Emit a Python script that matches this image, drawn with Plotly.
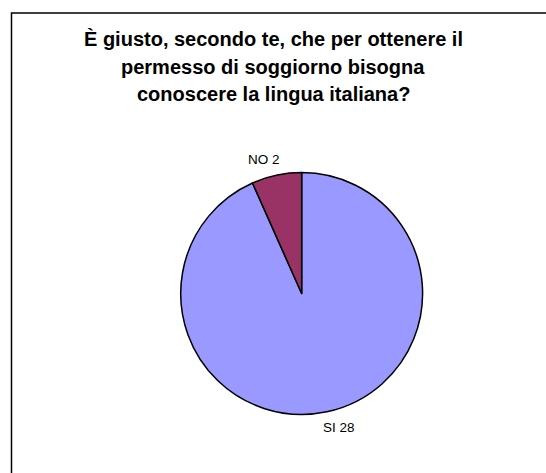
import math
import plotly.graph_objects as go

# Survey answers
answers = ["SI", "NO"]
counts = [28, 2]
slice_colors = ["#9999FF", "#993366"]

title_lines = [
    "È giusto, secondo te, che per ottenere il",
    "permesso di soggiorno bisogna",
    "conoscere la lingua italiana?",
]

W, H = 546, 473
FONT = "Liberation Sans, Arial, sans-serif"

# Pie placement in paper fractions
dom_x = [0.331, 0.774]
dom_y = [0.1237, 0.6353]

fig = go.Figure(
    go.Pie(
        labels=answers,
        values=counts,
        sort=False,
        direction="clockwise",
        rotation=0,
        marker=dict(colors=slice_colors, line=dict(color="black", width=1.5)),
        textinfo="none",
        hoverinfo="label+value",
        showlegend=False,
        domain=dict(x=dom_x, y=dom_y),
    )
)

# Slice labels placed just outside the rim at each slice's mid-angle
cx_px = (dom_x[0] + dom_x[1]) / 2 * W
cy_px = (dom_y[0] + dom_y[1]) / 2 * H
radius_px = min((dom_x[1] - dom_x[0]) * W, (dom_y[1] - dom_y[0]) * H) / 2
label_r = radius_px * 1.13
total = sum(counts)
start = 0.0
for name, val in zip(answers, counts):
    mid = (start + val / 2) / total * 2 * math.pi  # clockwise from 12 o'clock
    start += val
    dx = math.sin(mid) * label_r
    dy = math.cos(mid) * label_r
    fig.add_annotation(
        text=f"{name} {val}",
        x=(cx_px + dx) / W,
        y=(cy_px + dy) / H,
        xref="paper",
        yref="paper",
        xanchor="center",
        yanchor="middle",
        xshift=9 if dx >= 0 else -9,
        showarrow=False,
        font=dict(family=FONT, size=13.5, color="black"),
    )

# Title, one annotation per line for the wider line spacing
title_y = [39, 67, 94]
for line, ypx in zip(title_lines, title_y):
    fig.add_annotation(
        text=f"<b>{line}</b>",
        x=0.5,
        xref="paper",
        y=1 - ypx / H,
        yref="paper",
        xanchor="center",
        yanchor="middle",
        showarrow=False,
        font=dict(family=FONT, size=20, color="black"),
    )

# Chart-area frame (right and bottom edges fall outside the view)
fig.add_shape(
    type="rect",
    xref="paper",
    yref="paper",
    x0=11.5 / W,
    x1=1.05,
    y0=-0.05,
    y1=1 - 13 / H,
    line=dict(color="black", width=1.5),
    fillcolor="rgba(0,0,0,0)",
)

fig.update_layout(
    width=W,
    height=H,
    margin=dict(l=0, r=0, t=0, b=0),
    paper_bgcolor="white",
    plot_bgcolor="white",
)

fig.write_html("out.html")
